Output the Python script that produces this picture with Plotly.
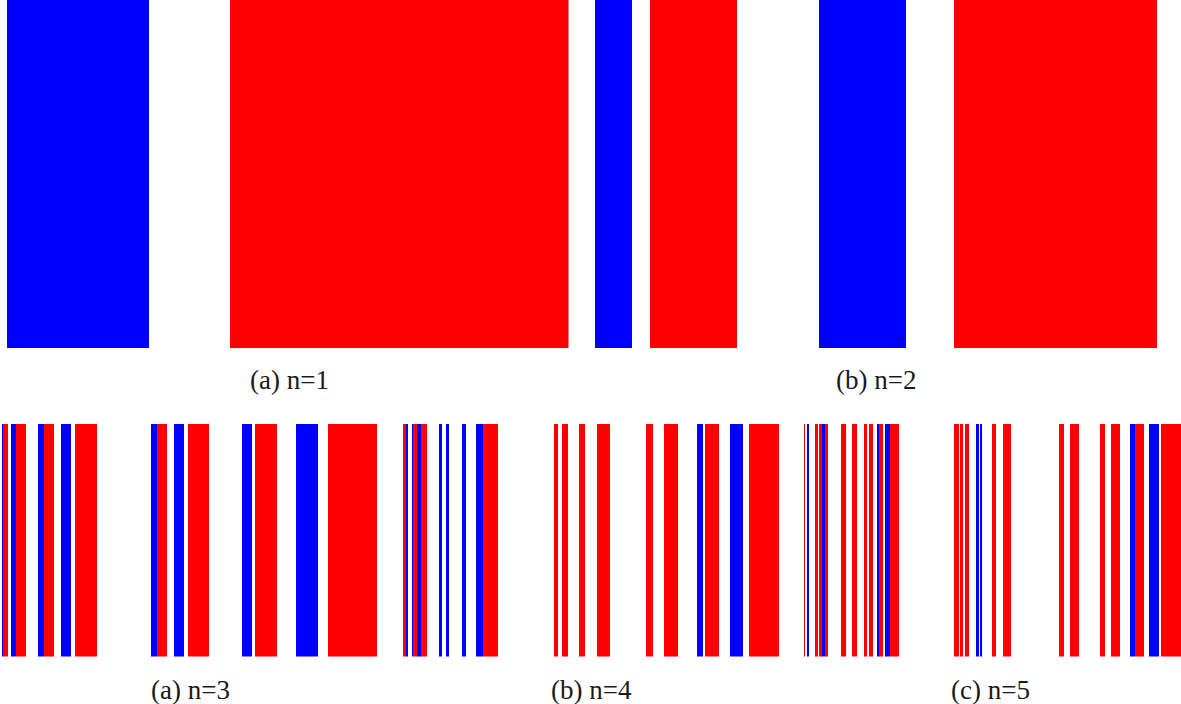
import plotly.graph_objects as go

W, H = 1181, 704

# ---- data: bar intervals (start, end) per panel, in panel-local units ----
# (a) n=1
n1_blue = [(0, 142)]
n1_red = [(223.3, 561.8)]
n1_span = (6.7, 568.5)

# (b) n=2
n2_blue = [(0, 36.7), (223.5, 311)]
n2_red = [(55, 142.3), (358.7, 562.3)]
n2_span = (595, 1157.3)

# (a) n=3
n3_blue = [(2, 3), (11, 16), (38.3, 44.3), (61.3, 71.3), (151, 157), (174, 184),
           (241.7, 252), (295.7, 318), (405.5, 407.5), (412, 413.3), (417.3, 420.5),
           (439.3, 442), (445.5, 449), (462.3, 466), (475.7, 483.3)]
n3_red = [(3, 8.3), (16, 26), (44.3, 54.3), (75, 96.7), (157, 167.3), (187.5, 209.3),
          (255, 277), (328.3, 377.3), (403, 405.5), (413.3, 417.3), (420.5, 427.3),
          (483.3, 497.7)]
n3_span = (0, 498)

# (b) n=4
n4_blue = [(143.7, 150.3), (176.5, 189.7), (254, 256.3), (269, 271.5),
           (323.7, 325.7), (331.5, 337)]
n4_red = [(1, 4.7), (8.7, 15.3), (25.7, 32), (44, 57.3), (93, 99.7), (111.3, 125),
          (152, 165.7), (196, 225.7), (251, 252.3), (262, 265.3), (266, 269),
          (271.5, 275.3), (288, 293), (299, 304), (311, 314), (315.7, 320.3),
          (325.7, 330.3), (337, 346)]
n4_span = (553, 900)

# (c) n=5
n5_blue = [(23, 25.7), (27, 29.3), (177, 182.3), (196.3, 206)]
n5_red = [(1, 5.7), (7, 10.3), (11.7, 16.3), (38.7, 43.3), (49.7, 58.3), (106, 111),
          (117, 126), (147, 151.7), (157.7, 166.7), (182.3, 191), (208.3, 228)]
n5_span = (953, 1181)

labels = ["(a) n=1", "(b) n=2", "(a) n=3", "(b) n=4", "(c) n=5"]

panels = [
    (n1_blue, n1_red, n1_span, (0, 348)),
    (n2_blue, n2_red, n2_span, (0, 348)),
    (n3_blue, n3_red, n3_span, (424, 656.5)),
    (n4_blue, n4_red, n4_span, (424, 656.5)),
    (n5_blue, n5_red, n5_span, (424, 656.5)),
]
label_y = [380, 380, 690, 690, 690]
label_x = [289, 876, 190.5, 591, 990.5]

fig = go.Figure()
layout = {}
for i, (blue, red, span, yspan) in enumerate(panels):
    k = "" if i == 0 else str(i + 1)
    for segs, col in ((blue, "#0000ff"), (red, "#ff0000")):
        fig.add_trace(go.Bar(
            orientation="h",
            y=[0] * len(segs),
            base=[s for s, e in segs],
            x=[e - s for s, e in segs],
            width=1,
            marker=dict(color=col, line=dict(width=0)),
            xaxis="x" + k, yaxis="y" + k,
            showlegend=False, hoverinfo="skip",
        ))
    width = span[1] - span[0]
    layout["xaxis" + k] = dict(domain=[span[0] / W, span[1] / W], range=[0, width],
                               visible=False, fixedrange=True, anchor="y" + k)
    layout["yaxis" + k] = dict(domain=[1 - yspan[1] / H, 1 - yspan[0] / H],
                               range=[-0.5, 0.5], visible=False, fixedrange=True,
                               anchor="x" + k)
    fig.add_annotation(text=labels[i], xref="paper", yref="paper",
                       x=label_x[i] / W, y=1 - label_y[i] / H, showarrow=False,
                       font=dict(family="Liberation Serif", size=27, color="#1a1a1a"),
                       xanchor="center", yanchor="middle")

fig.update_layout(**layout)
fig.update_layout(width=W, height=H, margin=dict(l=0, r=0, t=0, b=0),
                  paper_bgcolor="white", plot_bgcolor="white",
                  barmode="overlay", bargap=0)
fig.write_html("out.html", config={"displayModeBar": False, "staticPlot": True},
               post_script="document.body.style.margin='0';document.body.style.overflow='hidden';")
